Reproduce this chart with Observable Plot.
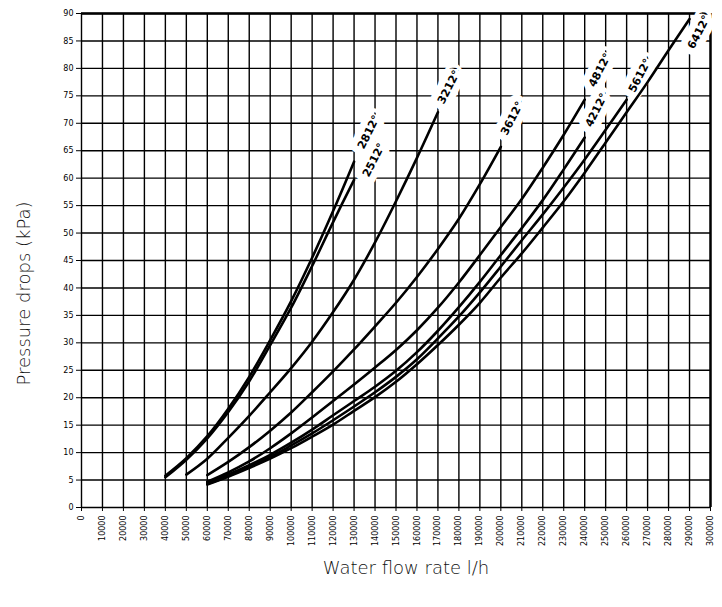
<!DOCTYPE html>
<html><head><meta charset="utf-8">
<script src="https://cdn.jsdelivr.net/npm/d3@7"></script>
<script src="https://cdn.jsdelivr.net/npm/@observablehq/plot@0.6"></script>
<style>body{margin:0;background:#fff}</style>
</head><body><div id="chart"></div>
<script>
const xTicks = [0,10000,20000,30000,40000,50000,60000,70000,80000,90000,100000,110000,120000,130000,140000,150000,160000,170000,180000,190000,200000,210000,220000,230000,240000,250000,260000,270000,280000,290000,300000];
const yTicks = [0,5,10,15,20,25,30,35,40,45,50,55,60,65,70,75,80,85,90];

const flowA = [40000,50000,60000,70000,80000,90000,100000,110000,120000,130000];
const p2812 = [5.8,9.0,13.0,18.0,23.8,30.5,37.6,45.5,54.0,63.0];
const p2512 = [5.5,8.7,12.6,17.4,23.0,29.6,36.4,44.0,52.0,59.7];

const flowB = [50000,60000,70000,80000,90000,100000,110000,120000,130000,140000,150000,160000,170000];
const p3212 = [6.0,8.9,12.7,16.7,21.0,25.4,30.2,35.6,41.5,48.3,55.8,63.7,72.0];

const flowC = [60000,70000,80000,90000,100000,110000,120000,130000,140000,150000,160000,170000,180000,190000,200000];
const p3612 = [5.9,8.3,11.0,14.0,17.3,21.0,24.8,28.8,33.0,37.3,42.0,47.1,52.6,58.9,65.7];

const flowD = [60000,70000,80000,90000,100000,110000,120000,130000,140000,150000,160000,170000,180000,190000,200000,210000,220000,230000,240000];
const p4812 = [4.7,6.4,8.4,10.8,13.5,16.4,19.4,22.4,25.5,28.7,32.3,36.4,41.0,46.0,51.1,56.2,61.9,67.9,74.3];
const p4212 = [4.5,6.0,7.7,9.6,11.8,14.2,16.8,19.4,22.0,24.9,28.3,32.2,36.5,41.1,46.0,50.9,56.0,61.6,67.4];

const flowE = [60000,70000,80000,90000,100000,110000,120000,130000,140000,150000,160000,170000,180000,190000,200000,210000,220000,230000,240000,250000,260000];
const p5612 = [4.3,5.75,7.4,9.2,11.3,13.5,15.9,18.4,21.0,23.8,27.0,30.8,34.8,39.2,43.9,48.7,53.4,58.3,63.4,68.8,74.3];

const flowF = [60000,70000,80000,90000,100000,110000,120000,130000,140000,150000,160000,170000,180000,190000,200000,210000,220000,230000,240000,250000,260000,270000,280000,290000];
const p6412 = [4.2,5.6,7.2,8.9,10.8,12.9,15.1,17.6,20.1,22.9,26.1,29.6,33.3,37.3,41.9,46.3,51.0,55.8,61.0,66.5,72.0,77.5,83.3,89.0];

const labelNames = ["2812°","2512°","3212°","3612°","4812°","4212°","5612°","6412°"];
const labelFlow = [137000,139400,175200,205400,247200,245600,266300,294400];
const labelP = [68.4,63.3,76.6,70.9,79.7,72.4,78.7,86.6];

const rows = [];
function add(name, flows, press) { flows.forEach((f, i) => rows.push({series: name, flow: f, p: press[i]})); }
add("2812°", flowA, p2812);
add("2512°", flowA, p2512);
add("3212°", flowB, p3212);
add("3612°", flowC, p3612);
add("4812°", flowD, p4812);
add("4212°", flowD, p4212);
add("5612°", flowE, p5612);
add("6412°", flowF, p6412);

const labels = labelNames.map((t, i) => ({text: t, flow: labelFlow[i], p: labelP[i]}));

const chart = Plot.plot({
  width: 722, height: 607,
  marginLeft: 81, marginRight: 12, marginTop: 13, marginBottom: 100,
  style: {background: "white", fontFamily: "DejaVu Sans", fontSize: "8px", color: "black"},
  x: {domain: [0, 300000], ticks: xTicks, tickFormat: d => String(d), tickRotate: -90, tickSize: 4, tickPadding: 4, label: null},
  y: {domain: [0, 90], ticks: yTicks, tickSize: 5, tickPadding: 3, label: null},
  marks: [
    Plot.ruleX(xTicks, {stroke: "black", strokeWidth: 1.4}),
    Plot.ruleY(yTicks, {stroke: "black", strokeWidth: 1.4}),
    Plot.ruleY([90], {stroke: "black", strokeWidth: 2.4}),
    Plot.ruleX([300000], {stroke: "black", strokeWidth: 2.4}),
    Plot.text(labels, {x: "flow", y: "p", text: "text", rotate: -63, fontWeight: "bold", fontSize: 11, fontFamily: "DejaVu Sans", fill: "black", stroke: "white", strokeWidth: 14}),
    Plot.line(rows, {x: "flow", y: "p", z: "series", stroke: "black", strokeWidth: 2.6, curve: "catmull-rom"}),
    Plot.text(["Pressure drops (kPa)"], {frameAnchor: "left", textAnchor: "middle", lineAnchor: "middle", dx: -57, dy: 33, rotate: -90, fontSize: 18, fontFamily: "DejaVu Sans", fontWeight: 300, fill: "#111"}),
    Plot.text(["Water flow rate l/h"], {frameAnchor: "bottom", textAnchor: "middle", lineAnchor: "middle", dx: 10, dy: 61, fontSize: 18, fontFamily: "DejaVu Sans", fontWeight: 300, fill: "#111"})
  ]
});
document.getElementById("chart").appendChild(chart);
</script>
</body></html>
